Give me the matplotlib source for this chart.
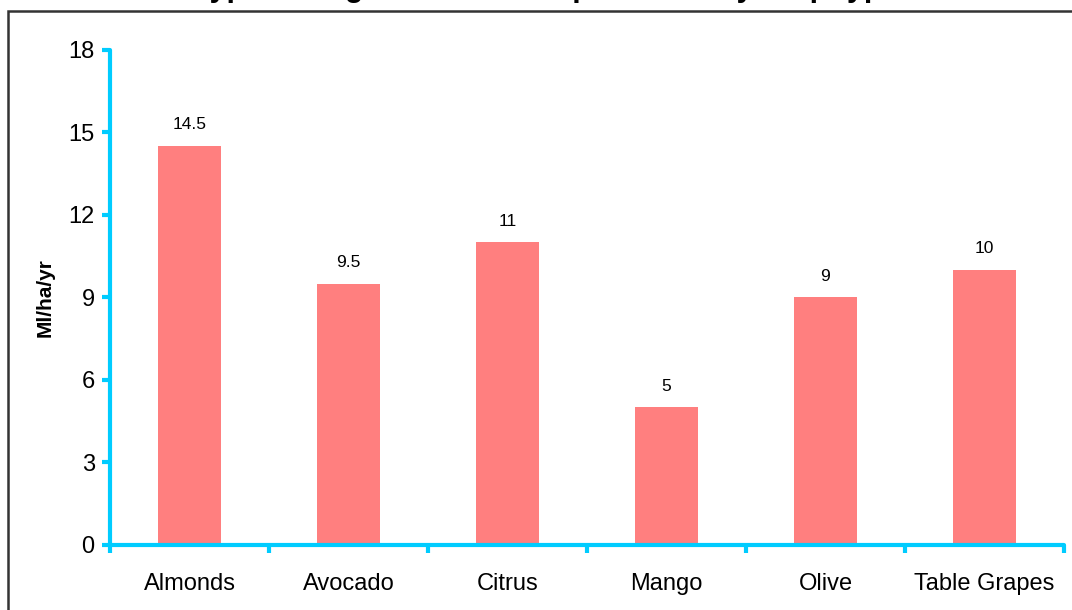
import matplotlib
matplotlib.use("Agg")
from matplotlib import pyplot as plt
from matplotlib.patches import Rectangle
import numpy as np

plt.rcParams['font.family'] = ['Liberation Sans', 'DejaVu Sans']

crops = ["Almonds", "Avocado", "Citrus", "Mango", "Olive", "Table Grapes"]
water_use = [14.5, 9.5, 11, 5, 9, 10]
y_ticks = [0, 3, 6, 9, 12, 15, 18]

axis_blue = "#00CCFF"
bar_red = "#FF7F7F"

fig = plt.figure(figsize=(10.72, 6.10), dpi=100)
ax = fig.add_axes([0.1026, 0.1066, 0.8899, 0.8115])

x = np.arange(len(crops))
bars = ax.bar(x, water_use, width=0.4, color=bar_red, zorder=2)
for xx, v in zip(x, water_use):
    ax.text(xx, v + 0.5, f"{v:g}", ha="center", va="bottom", fontsize=12.5)

ax.set_xlim(-0.5, len(crops) - 0.5)
ax.set_ylim(0, 18)
ax.set_yticks(y_ticks)
ax.set_yticklabels([str(t) for t in y_ticks], fontsize=17)

# group boundaries carry the tick marks, names sit between them
ax.set_xticks(np.arange(len(crops) + 1) - 0.5)
ax.set_xticklabels([])
ax.set_xticks(x, minor=True)
ax.set_xticklabels(crops, minor=True, fontsize=17)
ax.tick_params(axis="x", which="minor", length=0, pad=20)
ax.tick_params(axis="x", which="major", length=6, width=3, color=axis_blue, direction="out")
ax.tick_params(axis="y", length=6, width=3, color=axis_blue, direction="out", pad=5)

for side in ["top", "right"]:
    ax.spines[side].set_visible(False)
for side in ["left", "bottom"]:
    ax.spines[side].set_color(axis_blue)
    ax.spines[side].set_linewidth(3)
    ax.spines[side].set_capstyle("round")

ax.set_ylabel("Ml/ha/yr", fontsize=15, fontweight="bold")
ax.yaxis.set_label_coords(-0.058, 0.5)

# outer chart frame, running off the right and bottom edges
fig.patches.append(Rectangle((8 / 1072, -0.05), 1.1, (610 - 11) / 610 + 0.05,
                             transform=fig.transFigure, fill=False,
                             edgecolor="#333333", linewidth=1.8, zorder=0))

# chart title sits above the top edge; only its descenders reach the canvas
fig.text(0.51, 1.0 - 3 / 610, "Typical irrigation water requirement by crop type",
         ha="center", va="bottom", fontsize=22, fontweight="bold")

fig.savefig("out.png", dpi=100)
